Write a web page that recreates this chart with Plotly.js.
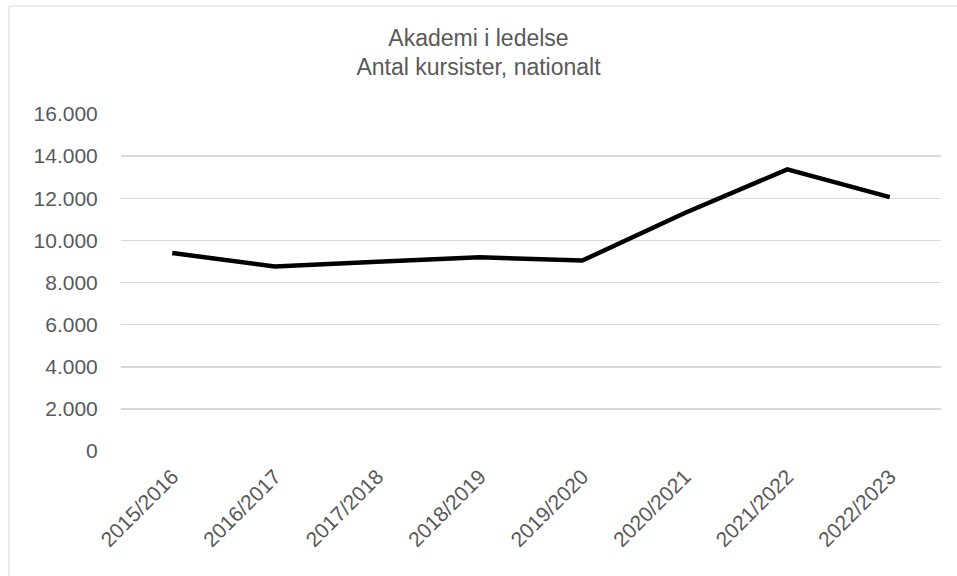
<!DOCTYPE html>
<html>
<head>
<meta charset="utf-8">
<script src="https://cdn.plot.ly/plotly-3.0.1.min.js"></script>
<style>
  html, body { margin: 0; padding: 0; background: #ffffff; overflow: hidden; }
  #chart { position: absolute; left: 0; top: 0; width: 957px; height: 576px; }
</style>
</head>
<body>
<div id="chart"></div>
<script>
const categories = ["2015/2016", "2016/2017", "2017/2018", "2018/2019", "2019/2020", "2020/2021", "2021/2022", "2022/2023"];
const kursister = [9400, 8760, 8980, 9200, 9040, 11300, 13370, 12050];
const yTickVals = [0, 2000, 4000, 6000, 8000, 10000, 12000, 14000, 16000];
const yTickText = ["0", "2.000", "4.000", "6.000", "8.000", "10.000", "12.000", "14.000", "16.000"];

const textColor = "#595959";
const fontFamily = "Liberation Sans, Arial, sans-serif";

const W = 957, H = 576;
const margin = { l: 121, r: 16, t: 114, b: 125 };
const plotW = W - margin.l - margin.r;
const plotH = H - margin.t - margin.b;
// outer chart frame (left edge at 9px, top edge at 6px)
const frameX0 = (9 - margin.l) / plotW;
const frameY1 = (H - margin.b - 6) / plotH;

const trace = {
  type: "scatter",
  mode: "lines",
  x: categories,
  y: kursister,
  line: { color: "#000000", width: 4.5 },
  hoverinfo: "x+y"
};

const layout = {
  width: W,
  height: H,
  paper_bgcolor: "#ffffff",
  plot_bgcolor: "#ffffff",
  margin: margin,
  showlegend: false,
  title: {
    text: "Akademi i ledelse<br>Antal kursister, nationalt",
    font: { family: fontFamily, size: 23, color: textColor },
    x: 0.5,
    xanchor: "center",
    y: 0.921,
    yanchor: "top"
  },
  shapes: [{
    type: "rect",
    xref: "paper", yref: "paper",
    x0: frameX0, x1: 2,
    y0: -2, y1: frameY1,
    line: { color: "#d9d9d9", width: 1 },
    fillcolor: "rgba(0,0,0,0)",
    layer: "below"
  }],
  xaxis: {
    type: "category",
    range: [-0.5, categories.length - 0.5],
    tickangle: -45,
    tickfont: { family: fontFamily, size: 21, color: textColor },
    showgrid: false,
    zeroline: false,
    showline: false,
    ticks: "outside",
    ticklen: 4,
    tickcolor: "rgba(0,0,0,0)"
  },
  yaxis: {
    range: [0, 16000],
    tickvals: yTickVals,
    ticktext: yTickText,
    tickfont: { family: fontFamily, size: 21, color: textColor },
    showgrid: true,
    gridcolor: "#d9d9d9",
    gridwidth: 1.5,
    zeroline: false,
    showline: false,
    ticks: "outside",
    ticklen: 18,
    tickcolor: "rgba(0,0,0,0)"
  }
};

Plotly.newPlot("chart", [trace], layout, { displayModeBar: false, staticPlot: true });
</script>
</body>
</html>
